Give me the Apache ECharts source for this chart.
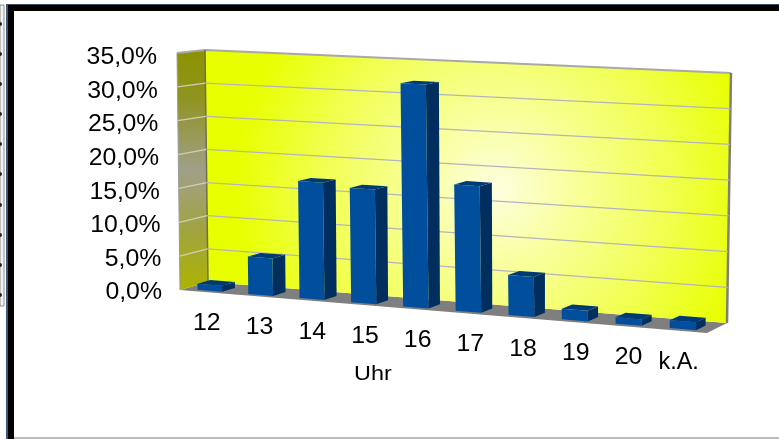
<!DOCTYPE html>
<html><head><meta charset="utf-8">
<style>html,body{margin:0;padding:0;background:#fff;overflow:hidden}#c{width:779px;height:439px;filter:blur(0.45px)}</style>
<script src="https://cdn.jsdelivr.net/npm/echarts@6/dist/echarts.min.js"></script>
</head><body><div id="c"></div>
<script>
const categories = ['12','13','14','15','16','17','18','19','20','k.A.'];
const values = [0.9,5.5,17.1,16.6,32.2,18.1,5.7,1.5,0.9,1.1];
const ticks = [0,5,10,15,20,25,30,35];
const tickLabels = ['0,0%','5,0%','10,0%','15,0%','20,0%','25,0%','30,0%','35,0%'];
const axisTitle = 'Uhr';
const stripDots = [24,54,84,114,144,174,205,235,265,295];

const FONT = '"Liberation Sans", Arial, sans-serif';
const WARP = 0.04, D_FRONT = 0.16, D_BACK = 0.63, HALF = 0.0242;
const lerp = (a,b,t) => a+(b-a)*t;
// oblique view: plot coordinates -> picture coordinates
function project(cs, px, py, d) {
  const s = (px-cs.x)/cs.width, v = (cs.y+cs.height-py)/cs.height;
  const o = s + WARP*(s*s-s);
  const f0=[180+527*o,290+43*o], b0=[208+519*o,282+41*o];
  const f1=[177+526*o,53+28*o],  b1=[205+526*o,50+23*o];
  const x0=lerp(f0[0],b0[0],d), y0=lerp(f0[1],b0[1],d);
  const x1=lerp(f1[0],b1[0],d), y1=lerp(f1[1],b1[1],d);
  return [lerp(x0,x1,v), lerp(y0,y1,v)];
}
const poly = (points, style) => ({type:'polygon', shape:{points}, style});

function renderWalls(params, api) {
  const c = params.coordSys, L=c.x, R=c.x+c.width, B=c.y+c.height, T=c.y;
  const P=(x,y,d)=>project(c,x,y,d);
  return {type:'group', children:[
    poly([P(L,B,0),P(R,B,0),P(R,B,1),P(L,B,1)],{fill:'#7f7f7f'}),
    poly([P(L,B,1),P(R,B,1),P(R,T,1),P(L,T,1)],{
      fill:new echarts.graphic.RadialGradient(495,190,290,[
        {offset:0,color:'#fdffe0'},{offset:0.25,color:'#f9ffa0'},{offset:0.6,color:'#f1ff50'},{offset:0.9,color:'#e8ff00'},{offset:1,color:'#e8ff00'}],true)}),
    poly([P(L,B,0),P(L,B,1),P(L,T,1),P(L,T,0)],{
      fill:new echarts.graphic.LinearGradient(0,0,0,1,[
        {offset:0,color:'#8d9200'},{offset:0.2,color:'#8f9420'},{offset:0.5,color:'#a0a088'},{offset:0.75,color:'#a0a440'},{offset:1,color:'#adb300'}])}),
    {type:'polyline',shape:{points:[P(L,T,0),P(L,T,1),P(R,T,1)]},style:{fill:null,stroke:'#a8a8a8',lineWidth:2}},
    {type:'line',shape:{x1:P(L,T,1)[0],y1:P(L,T,1)[1],x2:P(L,B,1)[0],y2:P(L,B,1)[1]},style:{stroke:'#6e6e50',lineWidth:1.5}},
    {type:'line',shape:{x1:P(L,T,0)[0],y1:P(L,T,0)[1],x2:P(L,B,0)[0],y2:P(L,B,0)[1]},style:{stroke:'#9a9a9a',lineWidth:1}},
    {type:'line',shape:{x1:P(R,T,1)[0],y1:P(R,T,1)[1],x2:P(R,B,1)[0],y2:P(R,B,1)[1]},style:{stroke:'#808078',lineWidth:2.5}}
  ]};
}
function renderGrid(params, api) {
  const c = params.coordSys, v = api.value(0);
  const y = api.coord([0,v])[1], L=c.x, R=c.x+c.width;
  if (v===0 || v===35) return {type:'group',children:[]};
  const a=project(c,L,y,0), b=project(c,L,y,1), e=project(c,R,y,1);
  return {type:'group',children:[
    {type:'line',shape:{x1:a[0],y1:a[1],x2:b[0],y2:b[1]},style:{stroke:'#cfcfb8',lineWidth:1.3}},
    {type:'line',shape:{x1:b[0],y1:b[1],x2:e[0],y2:e[1]},style:{stroke:'#b4b4bc',lineWidth:1.3}}
  ]};
}
function renderBar(params, api) {
  const c = params.coordSys, i = api.value(0), v = api.value(1);
  const cx = api.coord([i,0])[0], y0 = api.coord([i,0])[1], y1 = api.coord([i,v])[1];
  const h = HALF*c.width, l=cx-h, r=cx+h;
  const P=(x,y,d)=>project(c,x,y,d);
  return {type:'group',children:[
    poly([P(r,y0,D_FRONT),P(r,y0,D_BACK),P(r,y1,D_BACK),P(r,y1,D_FRONT)],{fill:'#002f5f'}),
    poly([P(l,y1,D_FRONT),P(r,y1,D_FRONT),P(r,y1,D_BACK),P(l,y1,D_BACK)],{fill:'#003a75'}),
    poly([P(l,y0,D_FRONT),P(r,y0,D_FRONT),P(r,y1,D_FRONT),P(l,y1,D_FRONT)],{fill:'#004e9c'})
  ]};
}
function renderCatLabel(params, api) {
  const c = params.coordSys, i = api.value(0);
  const p = api.coord([i,0]), s=(p[0]-c.x)/c.width;
  const ka = categories[i]==='k.A.';
  return {type:'text',x:p[0]+(ka?-2:0.5),y:290+43*s+31.5,scaleX:ka?1.02:1.08,
    style:{text:categories[i],font:'23px '+FONT,fill:'#000',align:'center',verticalAlign:'middle'}};
}
function renderTickLabel(params, api) {
  const c = params.coordSys, idx = params.dataIndex, v = api.value(0);
  const y = api.coord([0,v])[1];
  return {type:'text',x:c.x-18-5*(v/35),y:y+2,scaleX:1.08,
    style:{text:tickLabels[idx],font:'23px '+FONT,fill:'#000',align:'right',verticalAlign:'middle'}};
}
function renderTitle(params, api) {
  const c = params.coordSys;
  return {type:'text',x:c.x+c.width*0.366,y:c.y+c.height+83,scaleX:1.17,
    style:{text:axisTitle,font:'20px '+FONT,fill:'#000',align:'center',verticalAlign:'middle'}};
}
const frame = [
  {type:'rect',shape:{x:0,y:5,width:4,height:301},style:{fill:'#f2f2f2',stroke:'#8c8c8c',lineWidth:1}},
  ...stripDots.map(y=>({type:'circle',shape:{cx:0,cy:y,r:2},style:{fill:'#222'}})),
  {type:'rect',shape:{x:6,y:4,width:2,height:435},style:{fill:'#3d5a78'}},
  {type:'rect',shape:{x:8,y:4,width:771,height:1.5},style:{fill:'#3a4a58'}},
  {type:'rect',shape:{x:8,y:5,width:771,height:6},style:{fill:'#000'}},
  {type:'rect',shape:{x:8,y:5,width:6,height:434},style:{fill:'#000'}},
  {type:'rect',shape:{x:14,y:437,width:765,height:2},style:{fill:'#bdbdbd'}}
];
const chart = echarts.init(document.getElementById('c'),null,{renderer:'canvas'});
const base = {type:'custom',coordinateSystem:'cartesian2d',animation:false,silent:true,clip:false};
chart.setOption({
  animation:false,
  backgroundColor:'#fff',
  grid:{left:180,top:56,width:527,height:235},
  xAxis:{type:'category',data:categories,show:false},
  yAxis:{type:'value',min:0,max:35,interval:5,show:false},
  graphic:frame,
  series:[
    {...base,z:1,data:[[0]],renderItem:renderWalls},
    {...base,z:2,data:ticks.map(t=>[t]),encode:{y:0},renderItem:renderGrid},
    {...base,z:3,data:values.map((v,i)=>[i,v]),encode:{x:0,y:1},renderItem:renderBar},
    {...base,z:4,data:categories.map((c,i)=>[i]),encode:{x:0},renderItem:renderCatLabel},
    {...base,z:4,data:ticks.map(t=>[t]),encode:{y:0},renderItem:renderTickLabel},
    {...base,z:4,data:[[0]],renderItem:renderTitle}
  ]
});
</script></body></html>
